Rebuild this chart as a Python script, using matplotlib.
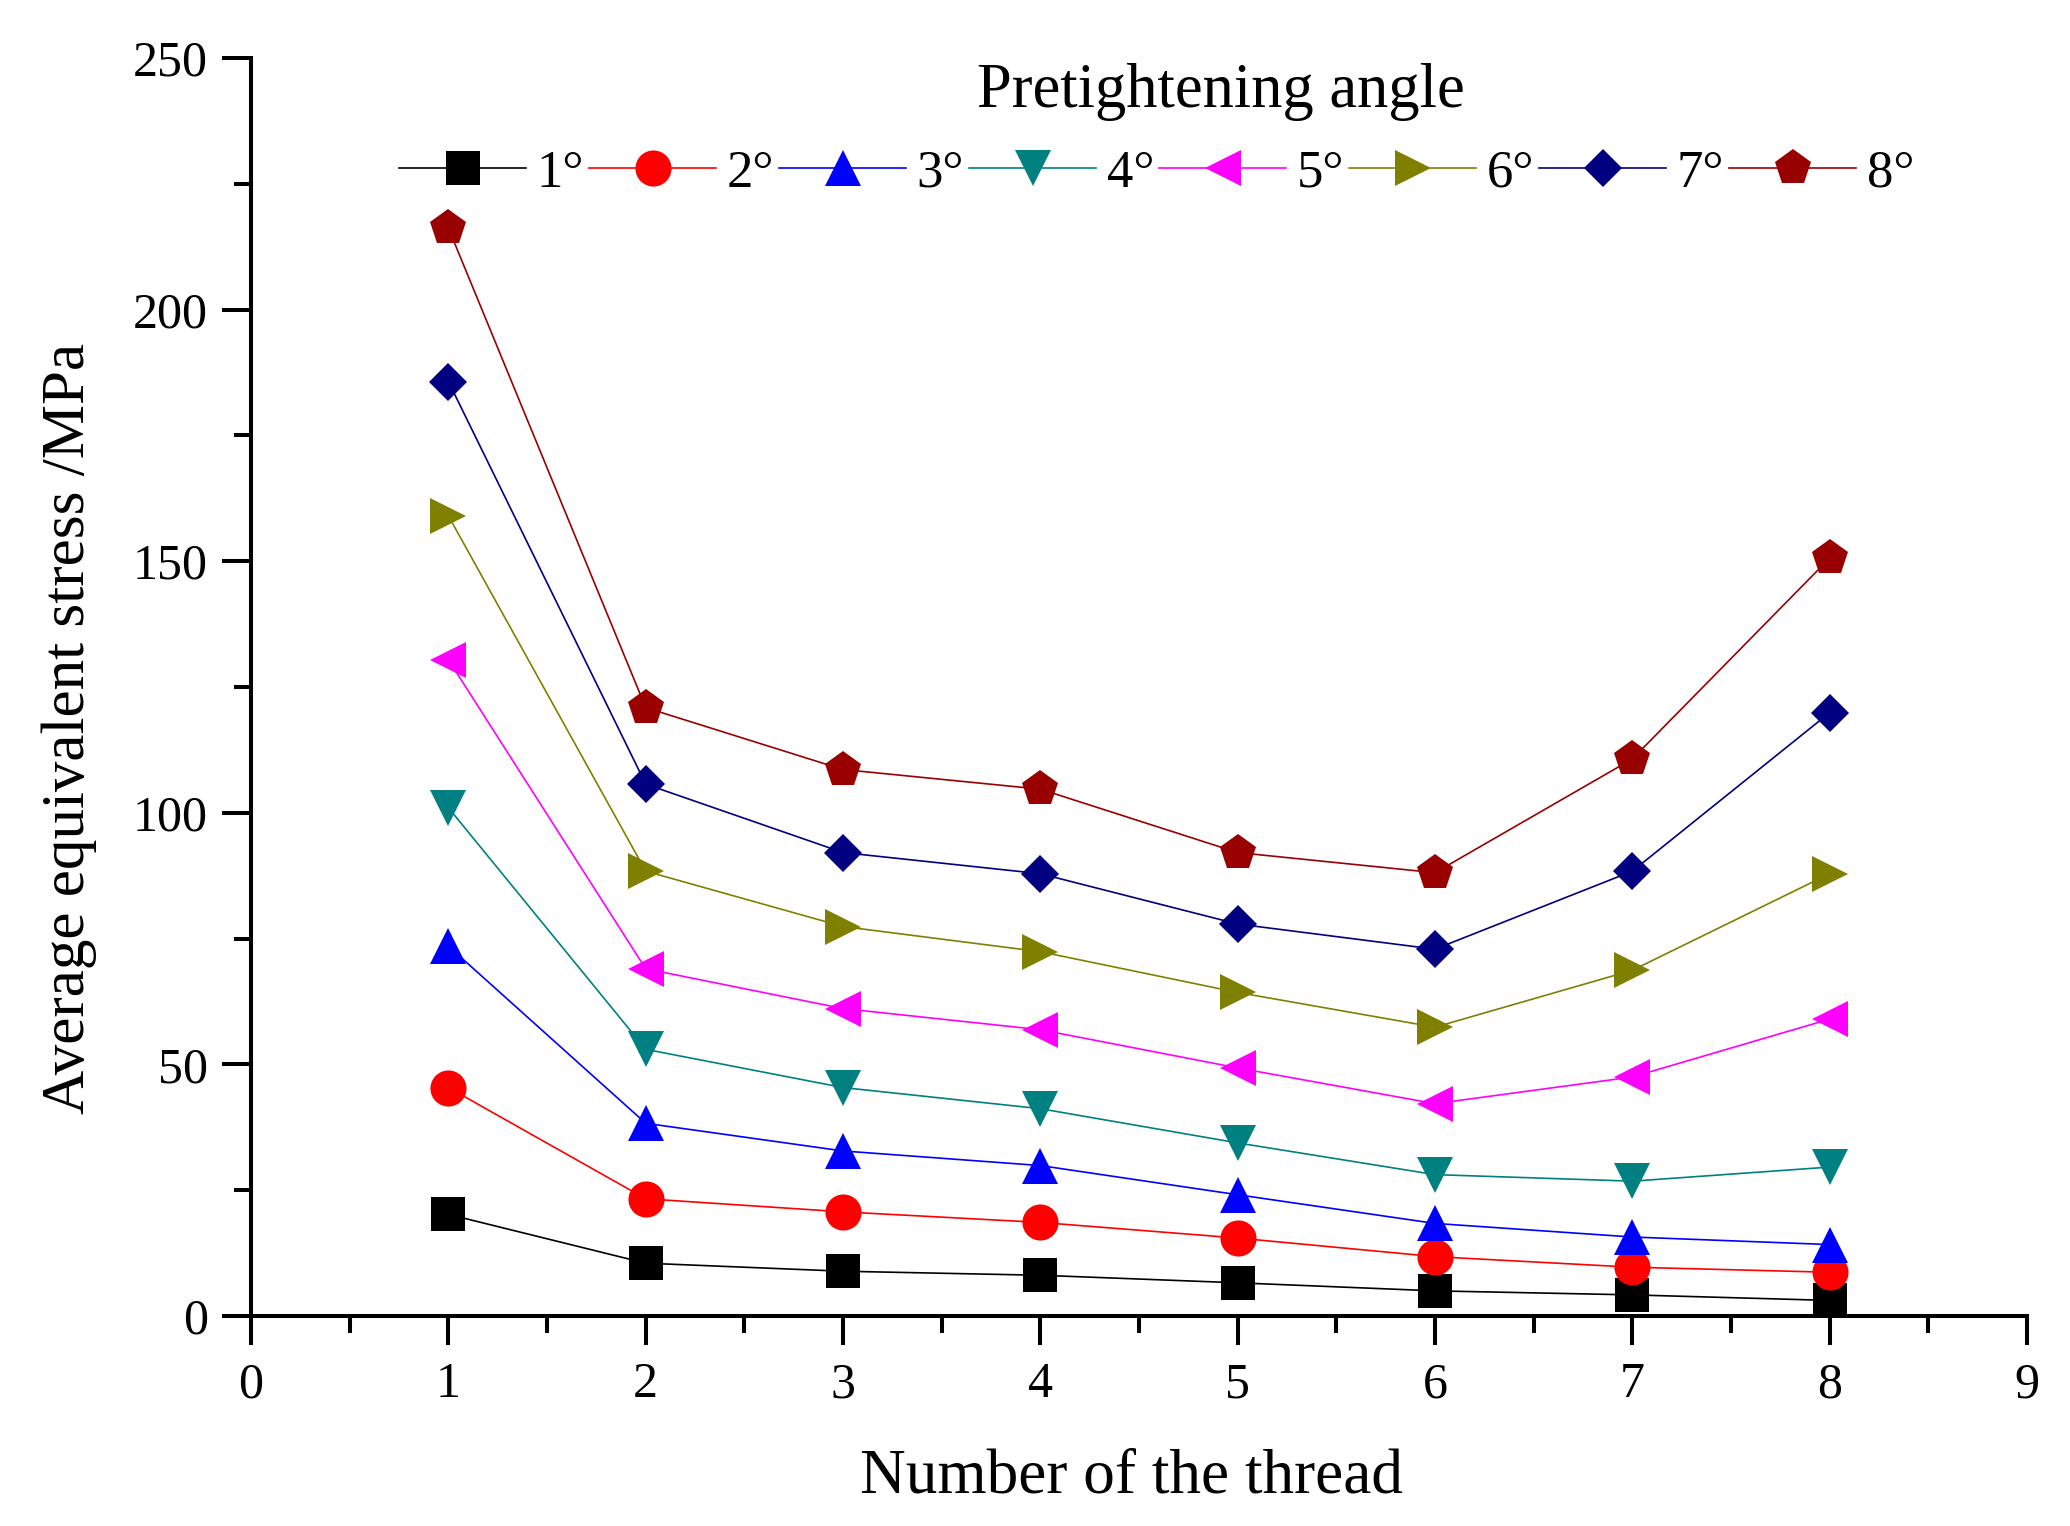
import matplotlib
matplotlib.use("Agg")
from matplotlib import pyplot
from matplotlib.ticker import MultipleLocator

# thread number and stress per pretightening angle (MPa)
threads = [1, 2, 3, 4, 5, 6, 7, 8]
angle_labels = ["1°", "2°", "3°", "4°", "5°", "6°", "7°", "8°"]
stress_1 = [20.2, 10.5, 8.9, 8.1, 6.6, 5.0, 4.2, 3.1]
stress_2 = [45.4, 23.3, 20.7, 18.6, 15.5, 11.8, 9.7, 8.7]
stress_3 = [73.5, 38.3, 32.8, 29.9, 24.1, 18.4, 15.7, 14.2]
stress_4 = [101.0, 53.0, 45.4, 41.2, 34.4, 28.1, 26.8, 29.6]
stress_5 = [130.4, 69.0, 61.1, 56.9, 49.3, 42.2, 47.5, 59.0]
stress_6 = [159.0, 88.4, 77.4, 72.4, 64.3, 57.4, 68.7, 87.9]
stress_7 = [185.7, 105.7, 92.1, 87.9, 77.9, 72.9, 88.4, 119.9]
stress_8 = [216.2, 120.9, 108.6, 104.7, 92.1, 88.1, 110.7, 150.6]

series = [stress_1, stress_2, stress_3, stress_4, stress_5, stress_6, stress_7, stress_8]
colors = ['black', 'red', 'blue', '#008080', '#ff00ff', '#808000', '#000080', '#990000']
markers = ['s', 'o', '^', 'v', '<', '>', 'D', 'p']
sizes = [24, 26, 26, 26, 26, 26, 19, 27]

pyplot.rcParams['font.family'] = ['Liberation Serif', 'DejaVu Serif']

canvas = pyplot.figure(figsize=(20.7, 15.26), dpi=100)
axes = canvas.add_axes([0.1213, 0.1376, 0.8579, 0.8244])

for values, label, c, m, s in zip(series, angle_labels, colors, markers, sizes):
    axes.plot(threads, values, color=c, lw=1.2, marker=m, markersize=s,
              markeredgewidth=0, label=label)

axes.set_xlim(0, 9)
axes.set_ylim(0, 250)
axes.xaxis.set_major_locator(MultipleLocator(1))
axes.xaxis.set_minor_locator(MultipleLocator(0.5))
axes.yaxis.set_major_locator(MultipleLocator(50))
axes.yaxis.set_minor_locator(MultipleLocator(25))

for side in ['top', 'right']:
    axes.spines[side].set_visible(False)
for side in ['left', 'bottom']:
    axes.spines[side].set_linewidth(2.9)

axes.tick_params(which='major', direction='out', length=21, width=2.9, labelsize=36)
axes.tick_params(which='minor', direction='out', length=12, width=2.9)
axes.tick_params(axis='x', which='major', pad=12)
axes.tick_params(axis='y', which='major', pad=10)

axes.set_xlabel("Number of the thread", fontsize=45.5, labelpad=28)
axes.set_ylabel("Average equivalent stress /MPa", fontsize=44, labelpad=22)
axes.yaxis.set_label_coords(-0.087, 0.467)
axes.xaxis.set_label_coords(0.496, -0.105)

# legend title drawn on its own, it sits right of the entries' centre
axes.text(0.546, 0.973, "Pretightening angle", transform=axes.transAxes,
          fontsize=45, ha='center', va='center')
axes.legend(ncol=8, loc='center', bbox_to_anchor=(0.51, 0.908), frameon=False,
            fontsize=38, handlelength=2.4, handletextpad=0.2, columnspacing=0.1,
            borderaxespad=0.0)

pyplot.savefig("out.png", dpi=100)
